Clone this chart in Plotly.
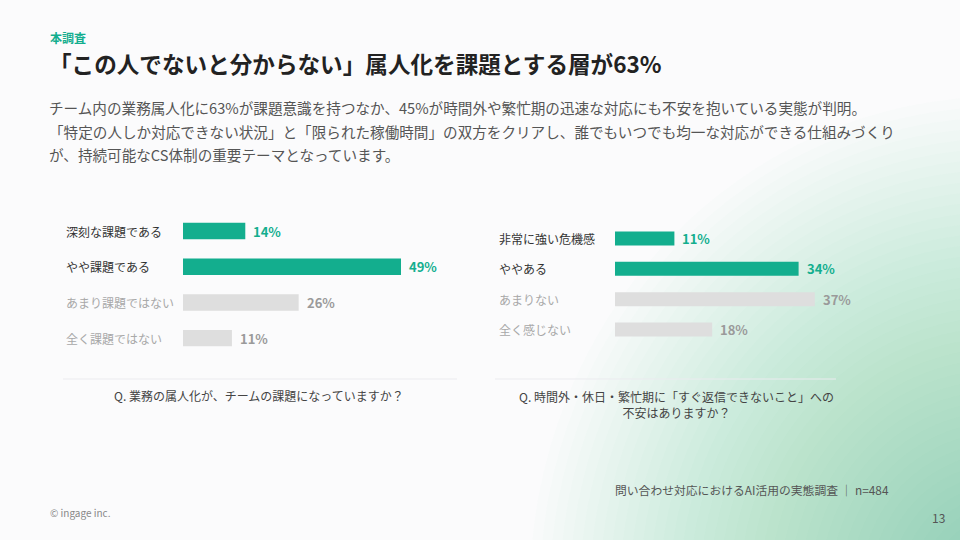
import plotly.graph_objects as go

# ---------------- data ----------------
q1_categories = ["深刻な課題である", "やや課題である", "あまり課題ではない", "全く課題ではない"]
q1_values = [14, 49, 26, 11]
q1_highlight = [True, True, False, False]

q2_categories = ["非常に強い危機感", "ややある", "あまりない", "全く感じない"]
q2_values = [11, 34, 37, 18]
q2_highlight = [True, True, False, False]

section_label = "本調査"
title_text = "「この人でないと分からない」属人化を課題とする層が63%"
body_lines = [
    "チーム内の業務属人化に63%が課題意識を持つなか、45%が時間外や繁忙期の迅速な対応にも不安を抱いている実態が判明。",
    "「特定の人しか対応できない状況」と「限られた稼働時間」の双方をクリアし、誰でもいつでも均一な対応ができる仕組みづくり",
    "が、持続可能なCS体制の重要テーマとなっています。",
]
q1_question = "Q. 業務の属人化が、チームの課題になっていますか？"
q2_question = "Q. 時間外・休日・繁忙期に「すぐ返信できないこと」への<br>不安はありますか？"
source_text = "問い合わせ対応におけるAI活用の実態調査 ｜ n=484"
copyright_text = "© ingage inc."
page_number = "13"

# ---------------- style ----------------
W, H = 960, 540
TEAL = "#13ae8e"
GRAY_BAR = "#dedede"
DARK = "#333333"
LIGHT_TXT = "#a8a8a8"
VAL_GRAY = "#9a9a9a"
FONT = "Noto Sans CJK JP"


def px(x):
    return x / W


def py(y):
    return 1 - y / H


fig = go.Figure()

q1_colors = [TEAL if h else GRAY_BAR for h in q1_highlight]
q2_colors = [TEAL if h else GRAY_BAR for h in q2_highlight]

fig.add_trace(go.Bar(
    x=q1_values, y=q1_categories, orientation="h",
    marker=dict(color=q1_colors, line=dict(width=0)),
    xaxis="x", yaxis="y", hoverinfo="skip", showlegend=False,
))
fig.add_trace(go.Bar(
    x=q2_values, y=q2_categories, orientation="h",
    marker=dict(color=q2_colors, line=dict(width=0)),
    xaxis="x2", yaxis="y2", hoverinfo="skip", showlegend=False,
))

annotations = []
# category labels and values
for cats, vals, hl, xr, yr, lx in [
    (q1_categories, q1_values, q1_highlight, "x", "y", 64),
    (q2_categories, q2_values, q2_highlight, "x2", "y2", 497),
]:
    for c, v, h in zip(cats, vals, hl):
        annotations.append(dict(
            xref="paper", yref=yr, x=px(lx), y=c, text=c, showarrow=False,
            xanchor="left", yanchor="middle",
            font=dict(family=FONT, size=12, color=DARK if h else LIGHT_TXT),
        ))
        annotations.append(dict(
            xref=xr, yref=yr, x=v, y=c, text=f"<b>{v}%</b>", showarrow=False,
            xanchor="left", yanchor="middle", xshift=6,
            font=dict(family=FONT, size=13, color=TEAL if h else VAL_GRAY),
        ))

# headings
annotations.append(dict(xref="paper", yref="paper", x=px(48), y=py(37), text=f"<b>{section_label}</b>",
                        showarrow=False, xanchor="left", yanchor="middle",
                        font=dict(family=FONT, size=12, color=TEAL)))
annotations.append(dict(xref="paper", yref="paper", x=px(47), y=py(63), text=f"<b>{title_text}</b>",
                        showarrow=False, xanchor="left", yanchor="middle",
                        font=dict(family=FONT, size=22.6, color="#222222")))
for i, line in enumerate(body_lines):
    annotations.append(dict(xref="paper", yref="paper", x=px(47), y=py(108 + i * 23.5), text=line,
                            showarrow=False, xanchor="left", yanchor="middle",
                            font=dict(family=FONT, size=14.6, color="#555555")))

# questions
annotations.append(dict(xref="paper", yref="paper", x=px(259), y=py(395), text=q1_question,
                        showarrow=False, xanchor="center", yanchor="middle",
                        font=dict(family=FONT, size=12, color="#444444")))
annotations.append(dict(xref="paper", yref="paper", x=px(676), y=py(404), text=q2_question,
                        showarrow=False, xanchor="center", yanchor="middle", align="center",
                        font=dict(family=FONT, size=12, color="#444444")))

# footer
annotations.append(dict(xref="paper", yref="paper", x=px(891), y=py(489), text=source_text,
                        showarrow=False, xanchor="right", yanchor="middle",
                        font=dict(family=FONT, size=11.8, color="#555555")))
annotations.append(dict(xref="paper", yref="paper", x=px(48), y=py(512), text=copyright_text,
                        showarrow=False, xanchor="left", yanchor="middle",
                        font=dict(family=FONT, size=10, color="#888888")))
annotations.append(dict(xref="paper", yref="paper", x=px(947), y=py(517), text=page_number,
                        showarrow=False, xanchor="right", yanchor="middle",
                        font=dict(family=FONT, size=12, color="#555555")))

shapes = []
# soft teal glow in the bottom-right corner (many faint layers for a smooth gradient)
n = 48
for i in range(n):
    r = 470 - i * 10
    cx, cy = 1000, 590
    shapes.append(dict(type="circle", xref="paper", yref="paper",
                       x0=px(cx - r * 1.0), x1=px(cx + r * 1.0),
                       y0=py(cy + r * 1.05), y1=py(cy - r * 1.05),
                       fillcolor="#4ed6b2", opacity=0.019, line=dict(width=0), layer="below"))
# divider lines
shapes.append(dict(type="line", xref="paper", yref="paper", x0=px(63), x1=px(457), y0=py(379), y1=py(379),
                   line=dict(color="#ebebef", width=1), layer="below"))
shapes.append(dict(type="line", xref="paper", yref="paper", x0=px(495), x1=px(836), y0=py(379), y1=py(379),
                   line=dict(color="#ebebef", width=1), layer="below"))

# axes domains
x1_dom = [px(183), px(455)]
x1_range = [0, 272 * 49 / 218]
x2_dom = [px(615), px(875)]
x2_range = [0, 260 / 5.4]
y1_dom = [py(356), py(213.2)]
y2_dom = [py(344.7), py(223.3)]

axis_hidden = dict(showgrid=False, zeroline=False, showticklabels=False, showline=False, ticks="", fixedrange=True)

fig.update_layout(
    width=W, height=H,
    margin=dict(l=0, r=0, t=0, b=0),
    paper_bgcolor="#fbfbfc",
    plot_bgcolor="rgba(0,0,0,0)",
    bargap=0.54,
    xaxis=dict(domain=x1_dom, range=x1_range, anchor="y", **axis_hidden),
    yaxis=dict(domain=y1_dom, type="category", autorange="reversed", anchor="x", **axis_hidden),
    xaxis2=dict(domain=x2_dom, range=x2_range, anchor="y2", **axis_hidden),
    yaxis2=dict(domain=y2_dom, type="category", autorange="reversed", anchor="x2", **axis_hidden),
    annotations=annotations,
    shapes=shapes,
    showlegend=False,
    font=dict(family=FONT),
)

fig.write_html("out.html", config={"displayModeBar": False})
